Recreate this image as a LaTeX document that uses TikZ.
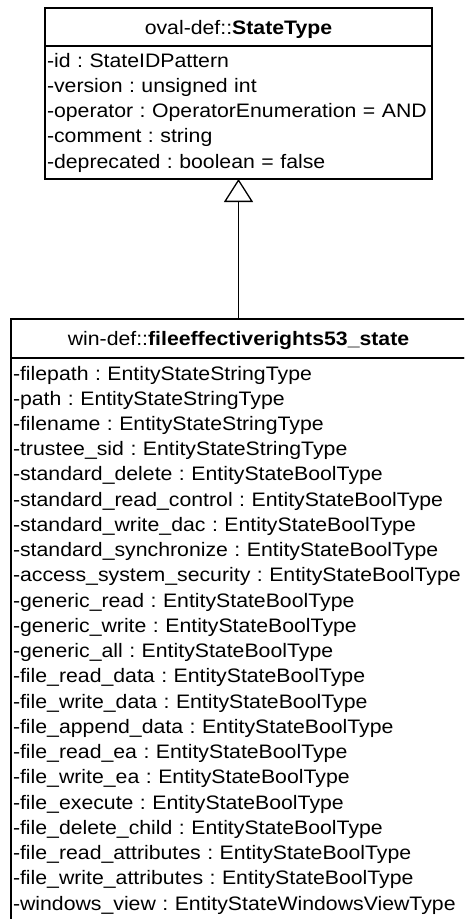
\documentclass[tikz,border=0pt]{standalone}
\usepackage{fontspec}
\setmainfont{Liberation Sans}[FakeStretch=1.09]
\frenchspacing
\usetikzlibrary{positioning,arrows.meta}
\tikzset{classname/.style={draw=black, line width=1.3pt, outer sep=0pt, inner sep=0pt,
  text height=14pt, text depth=0pt, minimum width=#1},
%attribute compartment, width is the text width
classattrs/.style={draw=black, line width=1.3pt, outer sep=0pt, inner xsep=2pt, inner ysep=0pt,
  align=left, text width=#1},
inherit/.style={line width=0.9pt, -{Triangle[open, length=23pt, width=29pt, line width=1.3pt]}}}

\begin{document}
\begin{tikzpicture}[font=\fontsize{19.5}{25.24}\selectfont]
\useasboundingbox (0,0) rectangle (464pt,-919pt);
\clip (0,0) rectangle (464pt,-919pt);

\node[classname=387pt, minimum height=38pt] (statetype) at (238.5pt,-27pt) {oval-def::\textbf{StateType}};
\node[classattrs=383pt, minimum height=133pt, below=0pt of statetype] (statetypeattrs) {%
-id : StateIDPattern\\
-version : unsigned int\\
-operator : OperatorEnumeration = AND\\
-comment : string\\
-deprecated : boolean = false};

\node[classname=455pt, minimum height=39pt] (rightsstate) at (238.5pt,-338.5pt) {win-def::\textbf{fileeffectiverights53\_state}};
\node[classattrs=451pt, minimum height=564pt, below=0pt of rightsstate] (rightsstateattrs) {%
-filepath : EntityStateStringType\\
-path : EntityStateStringType\\
-filename : EntityStateStringType\\
-trustee\_sid : EntityStateStringType\\
-standard\_delete : EntityStateBoolType\\
-standard\_read\_control : EntityStateBoolType\\
-standard\_write\_dac : EntityStateBoolType\\
-standard\_synchronize : EntityStateBoolType\\
-access\_system\_security : EntityStateBoolType\\
-generic\_read : EntityStateBoolType\\
-generic\_write : EntityStateBoolType\\
-generic\_all : EntityStateBoolType\\
-file\_read\_data : EntityStateBoolType\\
-file\_write\_data : EntityStateBoolType\\
-file\_append\_data : EntityStateBoolType\\
-file\_read\_ea : EntityStateBoolType\\
-file\_write\_ea : EntityStateBoolType\\
-file\_execute : EntityStateBoolType\\
-file\_delete\_child : EntityStateBoolType\\
-file\_read\_attributes : EntityStateBoolType\\
-file\_write\_attributes : EntityStateBoolType\\
-windows\_view : EntityStateWindowsViewType};

\draw[inherit] (rightsstate.north) -- (statetypeattrs.south);
\end{tikzpicture}
\end{document}
